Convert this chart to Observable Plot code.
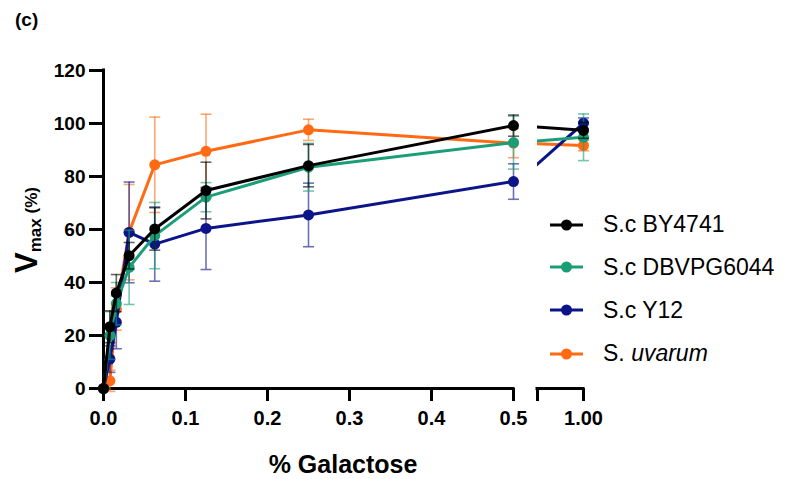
<!DOCTYPE html>
<html>
<head>
<meta charset="utf-8">
<script src="https://cdn.jsdelivr.net/npm/d3@7"></script>
<script src="https://cdn.jsdelivr.net/npm/@observablehq/plot@0.6"></script>
<style>
  html, body { margin: 0; padding: 0; background: #fff; }
  #fig { position: relative; width: 792px; height: 479px; font-family: "Liberation Sans", Arial, sans-serif; overflow: hidden; }
  #fig svg { position: absolute; top: 0; }
  .lab { position: absolute; font-weight: bold; color: #000; white-space: nowrap; }
  .leg { position: absolute; left: 548px; font-size: 23px; display: flex; align-items: center; white-space: nowrap; }
</style>
</head>
<body>
<div id="fig"></div>
<script>
// ---- data ----
const galactose = [0, 0.0078125, 0.015625, 0.03125, 0.0625, 0.125, 0.25, 0.5, 1];
const seriesNames = ["S. uvarum", "S.c Y12", "S.c DBVPG6044", "S.c BY4741"];
const seriesColors = ["#ff6a13", "#0c1489", "#1b9e77", "#000000"];
const uvarum      = [0, 2.9, 30, 59, 84.4, 89.5, 97.6, 92.6, 91.7];
const uvarumErr   = [0, 4, 8, 18, 18, 14, 4, 5.5, 2];
const y12         = [0, 11.1, 25, 58.9, 54.5, 60.4, 65.5, 78.1, 100.1];
const y12Err      = [0, 5, 10, 19, 14, 15.5, 12, 6.7, 2];
const dbvpg6044   = [0, 20, 32, 45.7, 57.7, 72.2, 83.5, 92.8, 94.8];
const dbvpg6044Err= [0, 9, 8, 14, 12.5, 5.5, 9, 10, 8.8];
const by4741      = [0, 23.3, 36.0, 50.1, 60.2, 74.7, 84.1, 99.2, 97.4];
const by4741Err   = [0, 6, 7, 5, 8, 10.7, 8, 4, 3];
const yTicks = [0, 20, 40, 60, 80, 100, 120];
const xTicksLeft = [0, 0.1, 0.2, 0.3, 0.4, 0.5];
const xTicksRight = [0.65, 1];
const legendOrder = ["S.c BY4741", "S.c DBVPG6044", "S.c Y12", "S. uvarum"];

const values = [uvarum, y12, dbvpg6044, by4741];
const errs = [uvarumErr, y12Err, dbvpg6044Err, by4741Err];
const rows = [];
seriesNames.forEach((s, i) => galactose.forEach((g, j) => rows.push({series: s, x: g, y: values[i][j], e: errs[i][j]})));

const capSymbol = { draw(ctx, size) { const w = Math.sqrt(size / Math.PI); ctx.moveTo(-w, 0); ctx.lineTo(w, 0); } };
const color = {domain: seriesNames, range: seriesColors};

function seriesMarks(inDomain) {
  const m = [];
  for (const s of seriesNames) {
    const all = rows.filter(d => d.series === s);
    const pts = all.filter(d => inDomain(d.x));
    const eb = pts.filter(d => d.e > 0);
    m.push(Plot.ruleX(eb, {x: "x", y1: d => d.y - d.e, y2: d => d.y + d.e, stroke: "series", strokeWidth: 1.6, strokeOpacity: 0.6}));
    m.push(Plot.dot(eb, {x: "x", y: d => d.y + d.e, symbol: capSymbol, r: 5.5, fill: "none", stroke: "series", strokeWidth: 1.6, strokeOpacity: 0.6}));
    m.push(Plot.dot(eb, {x: "x", y: d => d.y - d.e, symbol: capSymbol, r: 5.5, fill: "none", stroke: "series", strokeWidth: 1.6, strokeOpacity: 0.6}));
    m.push(Plot.line(all, {x: "x", y: "y", stroke: "series", strokeWidth: 3, clip: true}));
    m.push(Plot.dot(pts, {x: "x", y: "y", fill: "series", r: 5.5}));
  }
  return m;
}

const common = {
  height: 479, marginTop: 70, marginBottom: 91,
  style: {background: "transparent", overflow: "visible", fontFamily: "Liberation Sans, Arial, sans-serif"},
  y: {domain: [0, 120]},
  color
};

const left = Plot.plot({
  ...common,
  width: 520, marginLeft: 103, marginRight: 7,
  x: {domain: [0, 0.5]},
  marks: [
    Plot.axisY({ticks: yTicks, tickSize: 14, tickPadding: 4, strokeWidth: 3, fontSize: 19, fontWeight: "bold", label: null}),
    Plot.axisX({ticks: xTicksLeft, tickFormat: d3.format(".1f"), tickSize: 13, tickPadding: 9, strokeWidth: 3, fontSize: 20, fontWeight: "bold", label: null}),
    Plot.ruleX([0], {strokeWidth: 3, strokeLinecap: "square"}),
    Plot.ruleY([0], {strokeWidth: 3, strokeLinecap: "square"}),
    ...seriesMarks(x => x <= 0.5)
  ]
});
left.style.left = "0px";

const right = Plot.plot({
  ...common,
  width: 272, marginLeft: 17, marginRight: 209,
  x: {domain: [0.65, 1]},
  y: {domain: [0, 120], axis: null},
  marks: [
    Plot.axisX({ticks: xTicksRight, tickFormat: d => d === 1 ? "1.00" : "", tickSize: 13, tickPadding: 9, strokeWidth: 3, fontSize: 20, fontWeight: "bold", label: null}),
    Plot.ruleY([0], {strokeWidth: 3, strokeLinecap: "square"}),
    ...seriesMarks(x => x >= 0.65)
  ]
});
right.style.left = "520px";

const fig = document.getElementById("fig");
fig.appendChild(left);
fig.appendChild(right);

// title
const t = document.createElement("div");
t.className = "lab"; t.textContent = "(c)";
t.style.cssText += "left:15px;top:9px;font-size:19px;";
fig.appendChild(t);

// x label
const xl = document.createElement("div");
xl.className = "lab"; xl.textContent = "% Galactose";
xl.style.cssText += "left:343px;top:450px;font-size:25px;transform:translateX(-50%);";
fig.appendChild(xl);

// y label
const yl = document.createElement("div");
yl.className = "lab";
yl.innerHTML = '<span style="font-size:31px">V</span><span style="font-size:17px;vertical-align:-4px">max</span><span style="font-size:17px"> (%)</span>';
yl.style.cssText += "left:27px;top:230px;transform:translate(-50%,-50%) rotate(-90deg);line-height:1;";
fig.appendChild(yl);

// legend
const legY = [224.5, 267.3, 310, 353.5];
legendOrder.forEach((s, i) => {
  const c = seriesColors[seriesNames.indexOf(s)];
  const d = document.createElement("div");
  d.className = "leg";
  d.style.top = (legY[i] - 14) + "px";
  d.style.height = "28px";
  const label = s === "S. uvarum" ? 'S. <i>uvarum</i>' : s;
  d.innerHTML = `<svg width="40" height="14" style="position:static;margin-right:15px"><line x1="2" y1="7" x2="35" y2="7" stroke="${c}" stroke-width="3"/><circle cx="18.5" cy="7" r="5.5" fill="${c}"/></svg><span>${label}</span>`;
  fig.appendChild(d);
});
</script>
</body>
</html>
